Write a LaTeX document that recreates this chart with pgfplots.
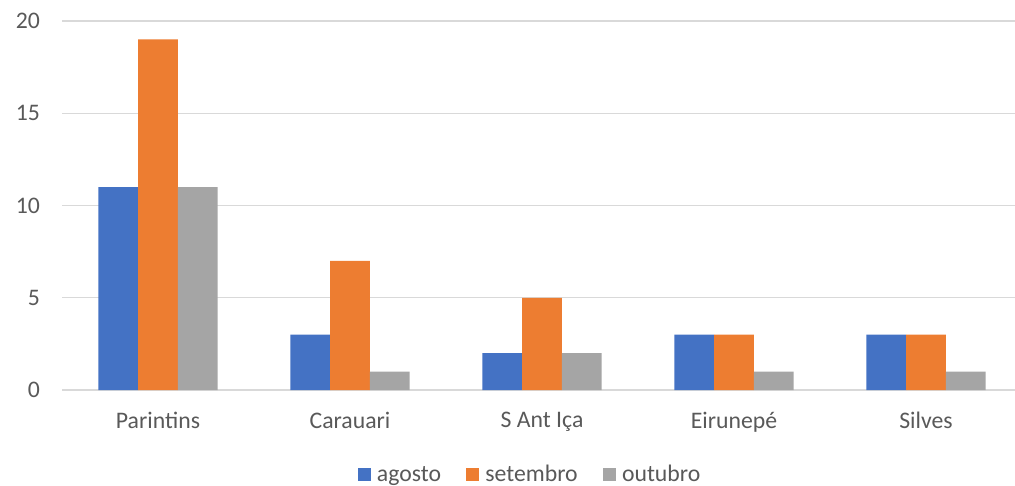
\documentclass[border=0pt]{standalone}
\usepackage{fontspec}
\setmainfont{Carlito}
\usepackage{pgfplots}
\pgfplotsset{compat=1.18}
\definecolor{agblue}{HTML}{4472C4}
\definecolor{seorange}{HTML}{ED7D31}
\definecolor{ougrey}{HTML}{A5A5A5}
\definecolor{txtgrey}{HTML}{595959}
\definecolor{gridgrey}{HTML}{D9D9D9}

\begin{document}
\begin{tikzpicture}
\useasboundingbox (0,0) rectangle (761.25pt,364.5pt);
\begin{axis}[
    at={(46.5pt,72pt)},
    anchor=south west,
    scale only axis,
    width=720pt,
    height=276.75pt,
    ybar=0pt,
    bar width=29.8pt,
    ymin=0, ymax=20,
    xmin=-0.5, xmax=4.5,
    xtick=data,
    xticklabels={Parintins,Carauari,S Ant Iça,Eirunepé,Silves},
    ytick={0,5,10,15,20},
    font=\fontsize{17.8}{21}\selectfont,
    tick label style={text=txtgrey},
    /pgf/number format/assume math mode=true,
    xticklabel style={yshift=-13pt},
    yticklabel style={xshift=-13pt},
    major tick length=0pt,
    axis line style={draw=none},
    ymajorgrids=true,
    major grid style={draw=gridgrey, line width=0.9pt},
    legend style={
        at={(0.488,-0.229)},
        anchor=center,
        draw=none,
        fill=none,
        legend columns=3,
        text=txtgrey,
        /tikz/every even column/.append style={column sep=17pt},
        /tikz/every odd column/.append style={column sep=2.5pt},
    },
    legend image code/.code={
        \fill[#1] (0pt,-4.9pt) rectangle (9.75pt,4.9pt);
    },
]
\addplot[fill=agblue, draw=none] coordinates {(0,11) (1,3) (2,2) (3,3) (4,3)};
\addplot[fill=seorange, draw=none] coordinates {(0,19) (1,7) (2,5) (3,3) (4,3)};
\addplot[fill=ougrey, draw=none] coordinates {(0,11) (1,1) (2,2) (3,1) (4,1)};
\legend{agosto,setembro,outubro}
\end{axis}
\end{tikzpicture}
\end{document}
